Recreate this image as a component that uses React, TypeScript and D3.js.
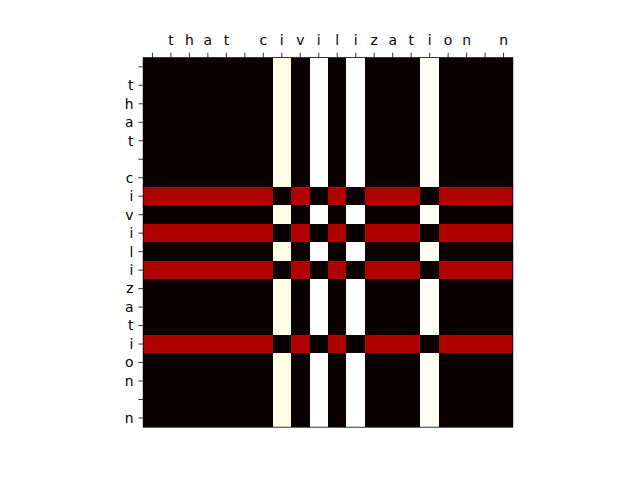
import * as d3 from "d3";

// characters of the sequence (row and column labels)
const labels = [" ", "t", "h", "a", "t", " ", "c", "i", "v", "i", "l", "i", "z", "a", "t", "i", "o", "n", " ", "n"];

// row patterns
const rowPlain = [0, 0, 0, 0, 0, 0, 0, 0.975, 0, 1, 0, 1, 0, 0, 0, 0.99, 0, 0, 0, 0];
const rowI = [0.247, 0.247, 0.247, 0.247, 0.247, 0.247, 0.247, 0, 0.247, 0, 0.247, 0, 0.247, 0.247, 0.247, 0, 0.247, 0.247, 0.247, 0.247];

// which pattern each row uses
const rowKinds = ["p", "p", "p", "p", "p", "p", "p", "i", "p", "i", "p", "i", "p", "p", "p", "i", "p", "p", "p", "p"];

const matrix = rowKinds.map((k) => (k === "i" ? rowI : rowPlain));

// matplotlib "hot"
function hot(v: number) {
  const c = (x: number) => Math.max(0, Math.min(1, x));
  const r = c(0.0416 + (v / 0.365079) * (1 - 0.0416));
  const g = c((v - 0.365079) / (0.746032 - 0.365079));
  const b = c((v - 0.746032) / (1 - 0.746032));
  return d3.rgb(r * 255, g * 255, b * 255).formatHex();
}

export default function App() {
  const width = 640;
  const height = 480;
  const left = 143.2;
  const top = 57.6;
  const size = 369.6;
  const n = labels.length;

  const x = d3.scaleBand<number>().domain(d3.range(n)).range([left, left + size]);
  const y = d3.scaleBand<number>().domain(d3.range(n)).range([top, top + size]);
  const vmin = d3.min(matrix.flat())!;
  const vmax = d3.max(matrix.flat())!;
  const norm = d3.scaleLinear().domain([vmin, vmax]).range([0, 1]);

  const tickLen = 4.86;
  const pad = 4.86;
  const font = "DejaVu Sans, sans-serif";

  return (
    <svg width={width} height={height} style={{ position: "absolute", left: 0, top: 0, background: "white" }}>
      <g shapeRendering="crispEdges">
        {matrix.map((row, r) =>
          row.map((v, c) => (
            <rect
              key={`${r}-${c}`}
              x={x(c)}
              y={y(r)}
              width={x.bandwidth()}
              height={y.bandwidth()}
              fill={hot(norm(v))}
            />
          ))
        )}
      </g>
      <rect x={left} y={top} width={size} height={size} fill="none" stroke="black" strokeWidth={0.8} />
      {labels.map((l, i) => {
        const cx = x(i)! + x.bandwidth() / 2;
        return (
          <g key={`x${i}`}>
            <line x1={cx} x2={cx} y1={top} y2={top - tickLen} stroke="black" strokeWidth={0.8} />
            <text x={cx} y={top - tickLen - pad - 3.2} textAnchor="middle" fontFamily={font} fontSize={13.89}>
              {l}
            </text>
          </g>
        );
      })}
      {labels.map((l, i) => {
        const cy = y(i)! + y.bandwidth() / 2;
        return (
          <g key={`y${i}`}>
            <line x1={left} x2={left - tickLen} y1={cy} y2={cy} stroke="black" strokeWidth={0.8} />
            <text x={left - tickLen - pad} y={cy} dy="0.35em" textAnchor="end" fontFamily={font} fontSize={13.89}>
              {l}
            </text>
          </g>
        );
      })}
    </svg>
  );
}
